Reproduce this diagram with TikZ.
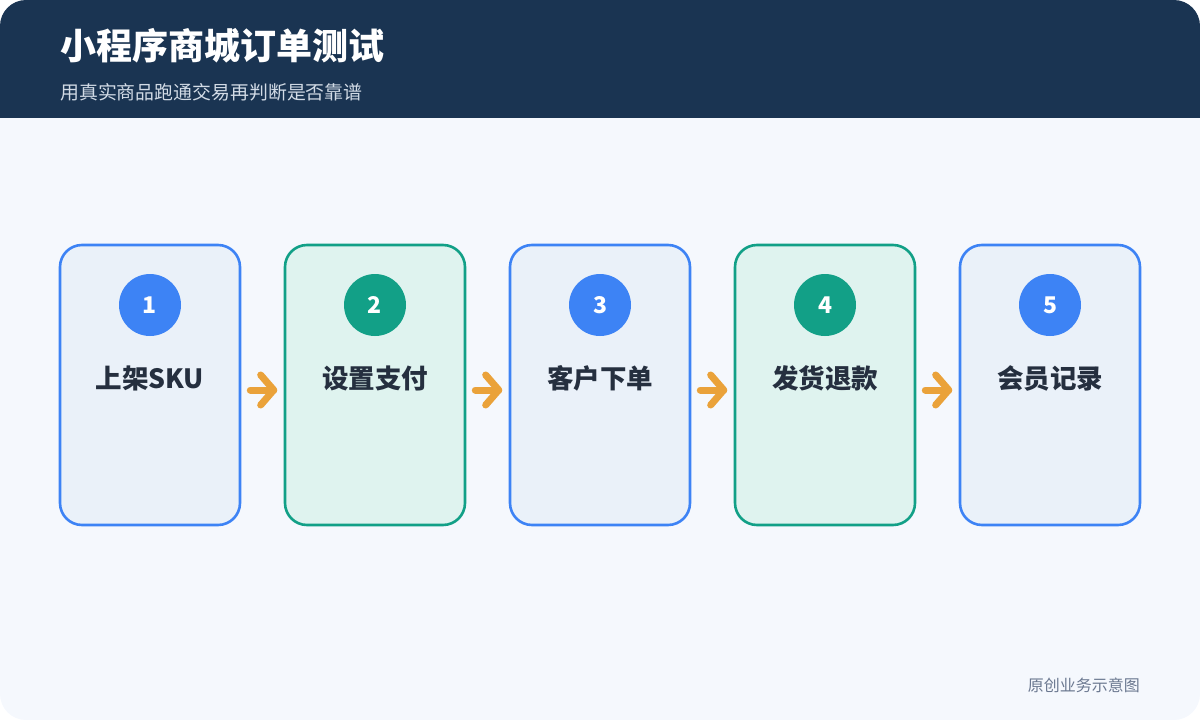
\documentclass[tikz,border=0pt]{standalone}
\usepackage{fontspec}
\setmainfont{Noto Sans CJK SC}
\usetikzlibrary{calc,arrows.meta}
\definecolor{navy}{HTML}{1A3452}
\definecolor{bodybg}{HTML}{F5F8FD}
\definecolor{subc}{HTML}{D2DBE6}
\definecolor{bblue}{HTML}{3D83F5}
\definecolor{fblue}{HTML}{EAF1F9}
\definecolor{bgreen}{HTML}{12A087}
\definecolor{fgreen}{HTML}{DFF3EF}
\definecolor{labc}{HTML}{252F3F}
\definecolor{arrc}{HTML}{EAA23A}
\definecolor{footc}{HTML}{6B7890}
\tikzset{
  stepcard/.style={draw, line width=2.6pt, rounded corners=22pt, minimum width=180pt, minimum height=280pt, inner sep=0pt},
  bluecard/.style={stepcard, draw=bblue, fill=fblue},
  greencard/.style={stepcard, draw=bgreen, fill=fgreen},
  numdot/.style={circle, minimum size=62pt, inner sep=0pt, text=white, font=\fontsize{23pt}{23pt}\selectfont\bfseries},
  steplabel/.style={text=labc, font=\fontsize{26.5pt}{26.5pt}\selectfont\bfseries, inner sep=0pt},
  flowarrow/.style={draw=arrc, line width=7pt, line cap=round, line join=round},
}
\begin{document}
\begin{tikzpicture}[x=1pt,y=-1pt]
\useasboundingbox (0,0) rectangle (1200,720);
\begin{scope}
\clip[rounded corners=26pt] (0,0) rectangle (1200,720);
\fill[bodybg] (0,0) rectangle (1200,720);
\fill[navy] (0,0) rectangle (1200,118);
\end{scope}
\node[anchor=west, text=white, font=\fontsize{36pt}{36pt}\selectfont\bfseries, inner sep=0pt] (title) at (60,46) {小程序商城订单测试};
\node[anchor=west, text=subc, font=\fontsize{18.9pt}{18.9pt}\selectfont, inner sep=0pt] (sub) at (60,92) {用真实商品跑通交易再判断是否靠谱};

\foreach \i/\st/\lab in {1/bluecard/上架SKU, 2/greencard/设置支付, 3/bluecard/客户下单, 4/greencard/发货退款, 5/bluecard/会员记录}{
  \pgfmathsetmacro{\cx}{150+225*(\i-1)}
  \node[\st] (b\i) at (\cx,385) {};
  \ifnum\i=2 \def\dc{bgreen}\else\ifnum\i=4 \def\dc{bgreen}\else\def\dc{bblue}\fi\fi
  \node[numdot, fill=\dc] (n\i) at (\cx,305) {\i};
  \node[steplabel] (l\i) at (\cx,378) {\lab};
}
\foreach \a/\b in {1/2,2/3,3/4,4/5}{
  \coordinate (s\a) at ($(b\a.east)+(9,5)$);
  \coordinate (t\a) at ($(b\b.west)+(-10,5)$);
  \draw[flowarrow] (s\a) -- (t\a);
  \draw[flowarrow] ($(t\a)+(-13,-15)$) -- (t\a) -- ($(t\a)+(-13,15)$);
}
\node[anchor=east, text=footc, font=\fontsize{16pt}{16pt}\selectfont, inner sep=0pt] (foot) at (1140,685) {原创业务示意图};
\end{tikzpicture}
\end{document}
